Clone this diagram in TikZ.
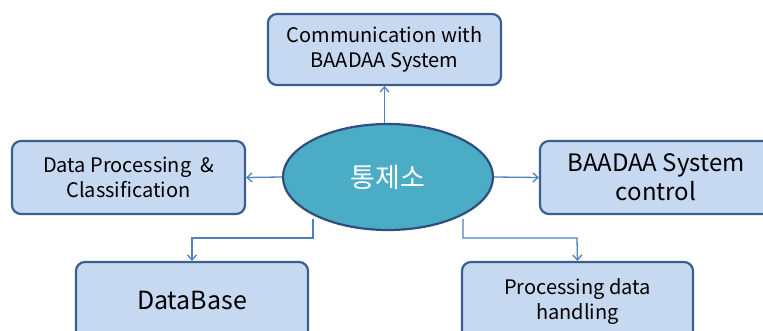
\documentclass[tikz,border=0pt]{standalone}
\usepackage{fontspec}
\setmainfont{Noto Sans CJK KR}
\usetikzlibrary{arrows.meta,shapes.geometric}
\definecolor{boxfill}{HTML}{C6D9F1}
\definecolor{boxline}{HTML}{3A5F8C}
\definecolor{ellfill}{HTML}{4BACC6}
\definecolor{ellline}{HTML}{2E4F7E}
\definecolor{arrowc}{HTML}{4F81BD}
\begin{document}
\begin{tikzpicture}[x=1pt,y=-1pt,
  box/.style={draw=boxline,fill=boxfill,line width=2.2pt,rounded corners=9pt,
    minimum width=#1,align=center,inner sep=0pt},
  conn/.style={draw=arrowc,line width=1.3pt,-{Straight Barb[length=5pt,width=9pt,line width=1.3pt]}}]
\useasboundingbox (0,0) rectangle (763,331);
\fill[white] (0,0) rectangle (763,331);
\node[box=233pt,minimum height=71pt,font=\fontsize{20}{25}\selectfont] (top) at (384.5,49.5) {Communication with\\BAADAA System};
\node[box=233pt,minimum height=73pt,font=\fontsize{20}{25}\selectfont] (left) at (128.5,177.5) {Data Processing\ \ \&\\Classification};
\node[box=232pt,minimum height=73pt,font=\fontsize{24}{29}\selectfont] (right) at (656,177.5) {BAADAA System\\control};
\node[box=232pt,minimum height=80pt,font=\fontsize{25}{28}\selectfont] (bl) at (192,302) {\raisebox{4pt}{DataBase}};
\node[box=231pt,minimum height=80pt,font=\fontsize{20}{25}\selectfont] (br) at (577.5,302) {\raisebox{3.5pt}{\begin{tabular}{@{}c@{}}Processing data\\handling\end{tabular}}};
\node[ellipse,draw=ellline,fill=ellfill,line width=2.2pt,minimum width=210pt,minimum height=106pt,
  text=white,font=\fontsize{27}{30}\selectfont] (c) at (388,177) {통제소};
\coordinate (cbl) at (313,219);
\coordinate (cbr) at (463,219);
\draw[conn] (c.north -| top.south) -- (top.south);
\draw[conn] (c.west) -- (left.east);
\draw[conn] (c.east) -- (right.west);
\draw[conn] (cbl) |- (192,238) -- (bl.north);
\draw[conn] (cbr) |- (577,238) -- (br.north);
\end{tikzpicture}
\end{document}
